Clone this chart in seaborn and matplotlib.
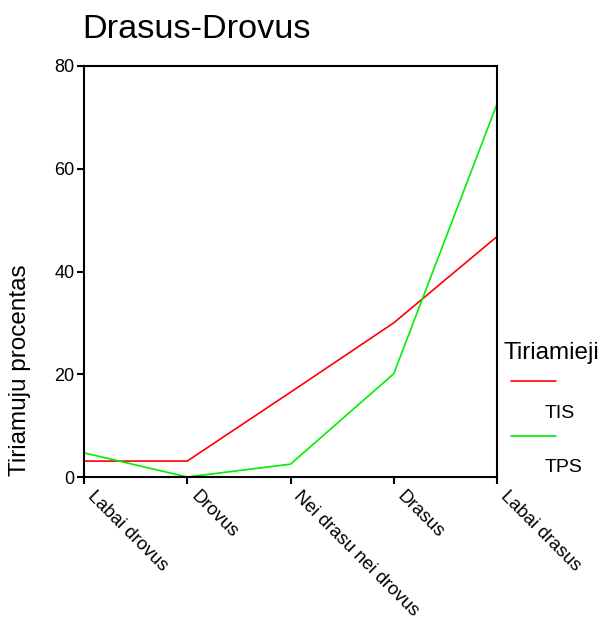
import pandas as pd
import matplotlib
matplotlib.use("Agg")
import matplotlib.pyplot as plt
import matplotlib.transforms as mtransforms
import seaborn as sns
from matplotlib.lines import Line2D

# === Duomenys ===
kategorijos = ["Labai drovus", "Drovus", "Nei drasu nei drovus", "Drasus", "Labai drasus"]
tis = [3.1, 3.1, 16.5, 30.0, 46.8]
tps = [4.7, 0.0, 2.5, 20.1, 72.6]
grupes = ["TIS", "TPS"]
spalvos = {"TIS": "#ff0000", "TPS": "#00ee00"}

df = pd.DataFrame({
    "kategorija": kategorijos * 2,
    "procentas": tis + tps,
    "grupe": [grupes[0]] * len(kategorijos) + [grupes[1]] * len(kategorijos),
})

sns.set_style("white")
plt.rcParams["font.family"] = ["Liberation Sans", "DejaVu Sans"]
plt.rcParams["text.color"] = "black"
plt.rcParams["axes.labelcolor"] = "black"
plt.rcParams["xtick.color"] = "black"
plt.rcParams["ytick.color"] = "black"

fig = plt.figure(figsize=(6.03, 6.19), dpi=100)
ax = fig.add_axes([84 / 603, 1 - 477 / 619, 413 / 603, 411 / 619])

sns.lineplot(data=df, x="kategorija", y="procentas", hue="grupe",
             palette=spalvos, linewidth=1.2, ax=ax, legend=False, sort=False)

ax.set_xlim(0, 4)
ax.set_ylim(0, 80)
ax.set_yticks([0, 20, 40, 60, 80])
ax.set_xticks(range(len(kategorijos)))
ax.set_xticklabels([])
# pasukti kategoriju pavadinimai, siek tiek pastumti i desine
offset = mtransforms.ScaledTranslation(12 / 100, -11 / 100, fig.dpi_scale_trans)
for i, k in enumerate(kategorijos):
    ax.text(i, 0, k, transform=ax.get_xaxis_transform() + offset,
            rotation=-45, ha="left", va="top", rotation_mode="anchor", fontsize=13.3)
ax.tick_params(axis="y", labelsize=13, length=5, width=1.5, direction="out", left=True, pad=2)
ax.tick_params(axis="x", length=5, width=1.5, direction="out", bottom=True, pad=4)
for s in ax.spines.values():
    s.set_color("black")
    s.set_linewidth(1.5)

ax.set_xlabel("")
ax.set_ylabel("Tiriamuju procentas", fontsize=17.5)
ax.yaxis.set_label_coords(-0.128, 0.26)
ax.set_title("Drasus-Drovus", fontsize=24.7, loc="left", x=-0.005, pad=20)

# === Legenda (SPSS stiliaus) ===
fig.text(503 / 603, 1 - 353 / 619, "Tiriamieji", fontsize=17.5, va="center", ha="left")
for i, g in enumerate(grupes):
    y_line = 1 - (381 + i * 55) / 619
    y_txt = 1 - (413 + i * 55) / 619
    fig.add_artist(Line2D([511 / 603, 556 / 603], [y_line, y_line],
                          color=spalvos[g], linewidth=1.2, transform=fig.transFigure))
    fig.text(545 / 603, y_txt, g, fontsize=14, va="center", ha="left")

fig.savefig("out.png", dpi=100)
